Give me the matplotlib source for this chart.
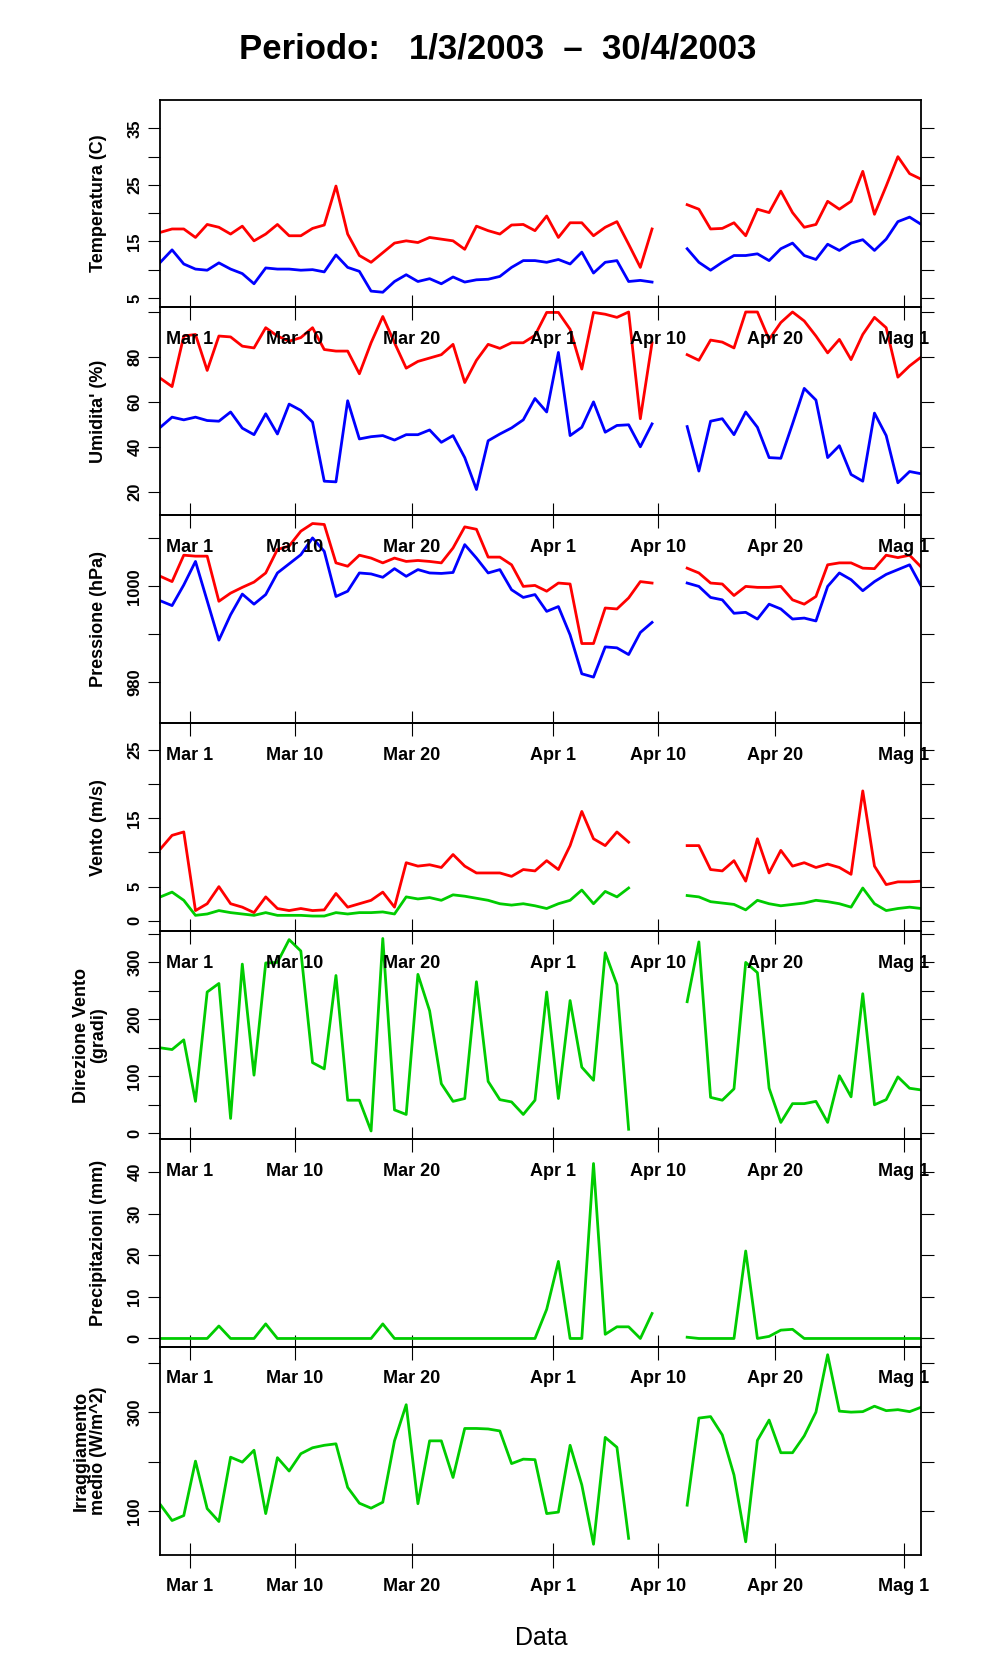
import numpy as np
import matplotlib.pyplot as plt

plt.rcParams['font.family'] = ['Liberation Sans', 'DejaVu Sans']

# days counted from 1 March 2003 (one sample per day, 66 days)
days = np.arange(66) - 2.5
tick_days = [0, 9, 19, 31, 40, 50, 61]
tick_labels = ["Mar 1", "Mar 10", "Mar 20", "Apr 1", "Apr 10", "Apr 20", "Mag 1"]

tmax_a = [16.6, 17.2, 17.2, 15.7, 18, 17.5, 16.3, 17.7, 15.1, 16.3, 18, 16, 16, 17.3, 17.9, 24.8,
          16.3, 12.5, 11.3, 13, 14.7, 15.1, 14.8, 15.7, 15.4, 15.1, 13.6, 17.7, 16.9, 16.3,
          17.9, 18, 16.9, 19.5, 15.7, 18.3, 18.3, 16, 17.5, 18.5, 14.5, 10.4, 17.2]
tmax_b = [21.5, 20.7, 17.2, 17.3, 18.3, 16, 20.7, 20.1, 23.9, 20.1, 17.5, 18, 22.1, 20.7, 22.1,
          27.4, 19.8, 24.8, 30, 27, 26]
tmin_a = [11.3, 13.5, 11, 10.1, 9.9, 11.2, 10.1, 9.3, 7.5, 10.3, 10.1, 10.1, 9.9, 10, 9.6, 12.6,
          10.4, 9.7, 6.2, 6, 7.9, 9.1, 7.9, 8.4, 7.5, 8.7, 7.8, 8.2, 8.3, 8.8, 10.4, 11.6, 11.6,
          11.3, 11.8, 11, 13.1, 9.4, 11.3, 11.6, 7.9, 8.1, 7.8]
tmin_b = [13.7, 11.3, 9.9, 11.3, 12.5, 12.5, 12.8, 11.6, 13.7, 14.7, 12.5, 11.8, 14.5, 13.4,
          14.7, 15.3, 13.4, 15.4, 18.5, 19.3, 18]

umax_a = [70.5, 66.8, 89.3, 90, 74, 89.3, 88.9, 84.8, 84, 93, 89.3, 87, 88.6, 93, 83.3, 82.6,
          82.6, 72.5, 86.3, 98, 86.3, 75, 78, 79.5, 81, 85.6, 68.6, 78.5, 85.6, 83.8, 86.3, 86.3,
          89.6, 99.8, 99.8, 92.3, 74.6, 99.8, 99, 97.6, 100, 52.5, 86.3]
umax_b = [81, 78.5, 87.5, 86.6, 84, 100, 100, 87.8, 95.3, 100, 96, 89.3, 81.8, 87.8, 78.8, 90,
          97.6, 93, 71, 76, 80]
umin_a = [48.7, 53.2, 52, 53.2, 51.7, 51.4, 55.5, 48.3, 45.4, 54.7, 45.7, 59, 56.2, 51, 24.7,
          24.4, 60.5, 43.5, 44.5, 45, 43, 45.4, 45.4, 47.5, 42, 45, 35.2, 21, 42.7, 45.7, 48.4,
          52, 61.5, 55.5, 82, 45, 48.7, 60, 46.5, 49.5, 49.8, 40, 50.2]
umin_b = [49, 29.2, 51.4, 52.5, 45.4, 55.5, 48.7, 35.2, 34.9, 50.2, 66, 60.8, 35.2, 40.5, 27.7,
          24.7, 55, 45, 24, 29, 28]

pmax_a = [1002.1, 1001, 1006.5, 1006.3, 1006.3, 996.9, 998.6, 999.8, 1000.9, 1002.8, 1007.7,
          1008.4, 1011.5, 1013.1, 1012.9, 1004.9, 1004.2, 1006.5, 1005.9, 1004.9, 1005.9, 1005.2,
          1005.4, 1005.2, 1004.9, 1008, 1012.4, 1011.9, 1006.1, 1006.1, 1004.5, 1000, 1000.2, 999,
          1000.7, 1000.5, 988.1, 988.1, 995.5, 995.3, 997.6, 1001, 1000.7]
pmax_b = [1003.8, 1002.8, 1000.7, 1000.5, 998.1, 1000, 999.8, 999.8, 1000, 997.2, 996.3, 997.9,
          1004.5, 1004.9, 1004.9, 1003.8, 1003.7, 1006.5, 1006, 1006.5, 1004]
pmin_a = [997, 996, 1000.3, 1005.2, 997, 988.8, 994.1, 998.4, 996.3, 998.3, 1002.8, 1004.7,
          1006.6, 1010.1, 1007.3, 997.9, 999, 1002.8, 1002.6, 1001.9, 1003.7, 1002.1, 1003.5,
          1002.8, 1002.7, 1002.9, 1008.7, 1005.9, 1002.8, 1003.5, 999.3, 997.7, 998.3, 994.8,
          995.8, 989.9, 981.8, 981.1, 987.4, 987.2, 985.8, 990.4, 992.5]
pmin_b = [1000.7, 1000, 997.7, 997.2, 994.4, 994.6, 993.2, 996.3, 995.3, 993.2, 993.4, 992.8,
          1000, 1002.8, 1001.4, 999.1, 1001, 1002.5, 1003.5, 1004.5, 1000]

vmax_a = [10.5, 12.5, 13, 1.5, 2.5, 5, 2.5, 2, 1.2, 3.5, 1.8, 1.5, 1.8, 1.5, 1.6, 4, 2, 2.5, 3,
          4.2, 2, 8.5, 8, 8.2, 7.8, 9.7, 8, 7, 7, 7, 6.5, 7.5, 7.3, 8.8, 7.5, 11, 16, 12, 11, 13, 11.5]
vmax_b = [11, 11, 7.5, 7.3, 8.8, 5.8, 12, 7, 10.3, 8, 8.5, 7.8, 8.3, 7.8, 6.8, 19, 8, 5.3, 5.7,
          5.7, 5.8]
vmed_a = [3.5, 4.2, 3, 0.8, 1, 1.5, 1.2, 1, 0.8, 1.2, 0.8, 0.8, 0.8, 0.7, 0.7, 1.2, 1, 1.2, 1.2,
          1.3, 1, 3.5, 3.2, 3.4, 3, 3.8, 3.6, 3.3, 3, 2.5, 2.3, 2.5, 2.2, 1.8, 2.5, 3, 4.5, 2.5,
          4.3, 3.5, 4.8]
vmed_b = [3.7, 3.5, 2.8, 2.6, 2.4, 1.6, 3, 2.5, 2.2, 2.4, 2.6, 3, 2.8, 2.5, 2, 4.8, 2.5, 1.5,
          1.8, 2, 1.8]

dir_a = [150, 147, 164, 56, 248, 263, 26, 297, 102, 299, 300, 340, 320, 124, 113, 277, 58, 58, 4,
         342, 41, 33, 279, 215, 87, 56, 61, 266, 91, 59, 55, 33, 58, 248, 61, 233, 116, 93, 317,
         261, 7]
dir_b = [231, 336, 63, 58, 78, 300, 282, 79, 19, 52, 52, 56, 19, 101, 64, 245, 50, 59, 99, 79, 76]

prec_a = [0, 0, 0, 0, 0, 3, 0, 0, 0, 3.5, 0, 0, 0, 0, 0, 0, 0, 0, 0, 3.5, 0, 0, 0, 0, 0, 0, 0,
          0, 0, 0, 0, 0, 0, 7, 18.5, 0, 0, 42, 1, 2.8, 2.8, 0, 6]
prec_b = [0.3, 0, 0, 0, 0, 21, 0, 0.5, 2, 2.2, 0, 0, 0, 0, 0, 0, 0, 0, 0, 0, 0]

irr_a = [113, 81, 91, 201, 105, 79, 209, 199, 223, 95, 208, 181, 216, 228, 233, 236, 148, 116,
         106, 118, 242, 315, 115, 242, 242, 168, 267, 267, 266, 262, 196, 205, 204, 95, 98, 233,
         153, 33, 249, 229, 45]
irr_b = [112, 288, 291, 254, 173, 38, 243, 284, 218, 218, 252, 300, 416, 302, 300, 301, 312, 303,
         305, 301, 310]

RED, BLUE, GREEN = "#ff0000", "#0000ff", "#00cc00"


def series(a, b):
    y = np.full(66, np.nan)
    y[:len(a)] = a
    y[66 - len(b):] = b
    return y


panels = [
    ("Temperatura (C)", [(tmax_a, tmax_b, RED), (tmin_a, tmin_b, BLUE)],
     (3.3, 40.1), np.arange(5, 36, 5), [5, 15, 25, 35]),
    ("Umidita' (%)", [(umax_a, umax_b, RED), (umin_a, umin_b, BLUE)],
     (9.5, 102), np.arange(20, 101, 20), [20, 40, 60, 80]),
    ("Pressione (hPa)", [(pmax_a, pmax_b, RED), (pmin_a, pmin_b, BLUE)],
     (971.5, 1014.8), [980, 990, 1000, 1010], [980, 1000]),
    ("Vento (m/s)", [(vmax_a, vmax_b, RED), (vmed_a, vmed_b, GREEN)],
     (-1.5, 28.9), np.arange(0, 26, 5), [0, 5, 15, 25]),
    ("Direzione Vento\n(gradi)", [(dir_a, dir_b, GREEN)],
     (-10, 355), np.arange(0, 351, 50), [0, 100, 200, 300]),
    ("Precipitazioni (mm)", [(prec_a, prec_b, GREEN)],
     (-2, 47.9), np.arange(0, 41, 10), [0, 10, 20, 30, 40]),
    ("Irraggiamento\nmedio (W/m^2)", [(irr_a, irr_b, GREEN)],
     (12, 432), [100, 200, 300, 400], [100, 300]),
]

fig = plt.figure(figsize=(9.96, 16.8), dpi=100)
left, right, top, bottom = 0.161, 0.925, 0.9407, 0.0746
h = (top - bottom) / len(panels)

for i, (ylab, lines, ylim, yt, ylabshow) in enumerate(panels):
    ax = fig.add_axes([left, top - (i + 1) * h, right - left, h])
    for a, b, c in lines:
        ax.plot(days, series(a, b), color=c, lw=2.0)
    ax.set_xlim(days[0], days[-1])
    ax.set_ylim(*ylim)
    ax.set_yticks(yt)
    ax.set_yticklabels([str(v) if v in ylabshow else "" for v in yt],
                       rotation=90, va="center", fontweight="bold", fontsize=12)
    ax.tick_params(axis="y", which="both", right=True, direction="out", length=9, pad=4)
    ax.set_xticks(tick_days)
    ax.set_xticklabels(tick_labels, fontweight="bold", fontsize=13)
    ax.tick_params(axis="x", direction="inout", length=18, pad=8)
    ax.set_ylabel(ylab, fontweight="bold", fontsize=13, linespacing=1.0)
    ax.yaxis.set_label_coords(-0.07, 0.5)
    for s in ax.spines.values():
        s.set_linewidth(1.3)
    ax.set_zorder(len(panels) - i)
    ax.patch.set_alpha(0)

fig.text(0.5, 0.971, "Periodo:   1/3/2003  \u2013  30/4/2003", ha="center", va="center",
         fontsize=25, fontweight="bold")
fig.text(0.543, 0.025, "Data", ha="center", va="center", fontsize=18)

fig.savefig("out.png", dpi=100)
